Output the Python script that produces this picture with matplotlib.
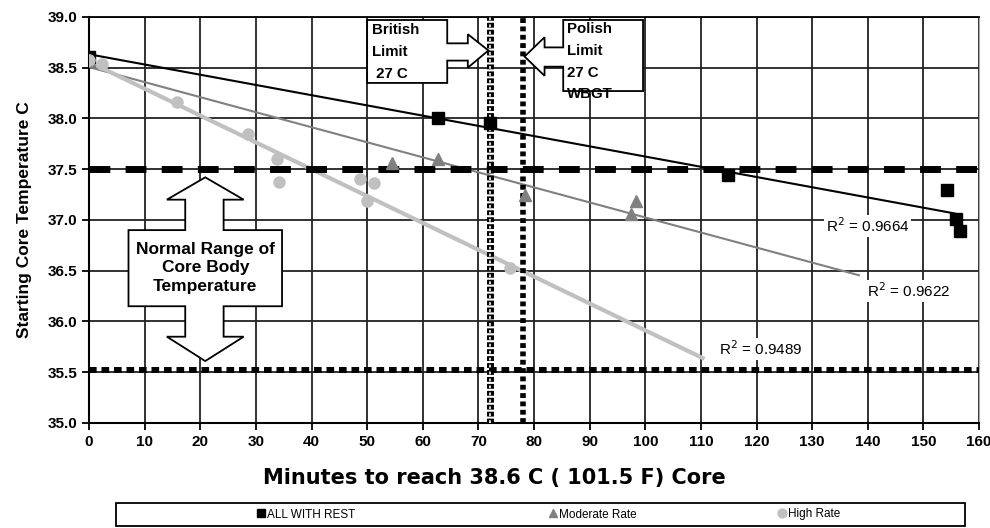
import numpy as np
import matplotlib
matplotlib.use("Agg")
import matplotlib.pyplot as plt
from matplotlib.patches import Polygon, Rectangle

plt.rcParams["font.family"] = ["Liberation Sans", "DejaVu Sans"]
plt.rcParams["lines.scale_dashes"] = False

# data
rest_x = [0, 62.7, 72.1, 114.8, 154.2, 155.8, 156.6]
rest_y = [38.61, 38.00, 37.96, 37.44, 37.30, 37.01, 36.89]

moderate_x = [0, 54.4, 62.7, 78.4, 98.4, 97.4]
moderate_y = [38.58, 37.56, 37.60, 37.25, 37.19, 37.06]

high_x = [0, 2.3, 15.8, 28.6, 33.8, 34.2, 48.7, 51.2, 49.9, 75.7]
high_y = [38.58, 38.54, 38.16, 37.85, 37.60, 37.37, 37.40, 37.36, 37.19, 36.53]

# trend lines are drawn out to these x values (excel forecast)
trend_end = [155.6, 138.4, 110.3]
r2_labels = ["R$^2$ = 0.9664", "R$^2$ = 0.9622", "R$^2$ = 0.9489"]
r2_pos = [(140.0, 36.94), (147.3, 36.30), (120.7, 35.73)]

normal_upper = 37.5
normal_lower = 35.52
british_limit = 72.0
polish_limit = 78.0

fig = plt.figure(figsize=(9.9, 5.28), dpi=100)
ax = fig.add_axes([0.0899, 0.1989, 0.899, 0.769])

series = [
    (rest_x, rest_y, "s", "black", 1.5, "ALL WITH REST"),
    (moderate_x, moderate_y, "^", "#808080", 1.5, "Moderate Rate"),
    (high_x, high_y, "o", "#c0c0c0", 3.0, "High Rate"),
]

handles = []
for (xs, ys, mk, col, lw, name), xend, lab, pos in zip(series, trend_end, r2_labels, r2_pos):
    h, = ax.plot(xs, ys, linestyle="none", marker=mk, color=col, markersize=8, label=name, zorder=4)
    handles.append(h)
    k, b = np.polyfit(xs, ys, 1)
    tx = np.array([0, xend])
    ax.plot(tx, k * tx + b, color=col, lw=lw, zorder=3)
    ax.text(pos[0], pos[1], lab, fontsize=11, ha="center", va="center",
            bbox=dict(facecolor="white", edgecolor="none", pad=1), zorder=5)

# reference lines
ax.axhline(normal_upper, color="black", lw=5, dashes=(15, 11), zorder=3)
ax.axhline(normal_lower, color="black", lw=4.3, dashes=(5.5, 3.5), zorder=3)
ax.axvline(british_limit, color="black", lw=5, dashes=(3.5, 1.5), zorder=3)
ax.axvline(british_limit, color="white", lw=1.2, dashes=(2, 3), zorder=3)
ax.axvline(polish_limit, color="black", lw=4, dashes=(3.5, 2.5), zorder=3)

# callout shapes
normal_shape = [(20.9, 37.42), (27.8, 37.20), (24.2, 37.20), (24.2, 36.90), (34.7, 36.90),
                (34.7, 36.15), (24.2, 36.15), (24.2, 35.85), (27.8, 35.85), (20.9, 35.61),
                (14.0, 35.85), (17.3, 35.85), (17.3, 36.15), (7.1, 36.15), (7.1, 36.90),
                (17.3, 36.90), (17.3, 37.20), (14.0, 37.20)]
british_shape = [(50.0, 38.97), (64.4, 38.97), (64.4, 38.74), (68.1, 38.74), (68.1, 38.83),
                 (71.8, 38.67), (68.1, 38.50), (68.1, 38.57), (64.4, 38.57), (64.4, 38.35),
                 (50.0, 38.35)]
polish_shape = [(85.25, 38.97), (99.6, 38.97), (99.6, 38.27), (85.25, 38.27), (85.25, 38.51),
                (81.9, 38.51), (81.9, 38.42), (78.3, 38.61), (81.9, 38.80), (81.9, 38.70),
                (85.25, 38.70)]
for shp in [normal_shape, british_shape, polish_shape]:
    ax.add_patch(Polygon(shp, closed=True, facecolor="white", edgecolor="black", lw=1.3, zorder=6))

ax.text(20.9, 36.53, "Normal Range of\nCore Body\nTemperature", ha="center", va="center",
        fontsize=12.5, fontweight="bold", linespacing=1.3, zorder=7)
ax.text(50.8, 38.655, "British\nLimit\n 27 C", ha="left", va="center",
        fontsize=10.8, fontweight="bold", linespacing=1.72, zorder=7)
ax.text(85.9, 38.56, "Polish\nLimit\n27 C\nWBGT", ha="left", va="center",
        fontsize=10.8, fontweight="bold", linespacing=1.72, zorder=7)

ax.set_xlim(0, 160)
ax.set_ylim(35.0, 39.0)
ax.set_xticks(np.arange(0, 161, 10))
ax.set_yticks(np.arange(35.0, 39.01, 0.5))
ax.set_yticklabels([f"{v:.1f}" for v in np.arange(35.0, 39.01, 0.5)])
ax.tick_params(labelsize=11, width=1.3, length=5, direction="out")
for lbl in ax.get_xticklabels() + ax.get_yticklabels():
    lbl.set_fontweight("bold")
ax.grid(True, color="#222222", lw=1.3, zorder=1)
ax.set_axisbelow(True)
for side in ["left", "bottom"]:
    ax.spines[side].set_linewidth(1.5)
ax.spines["top"].set_linewidth(1.3)
ax.spines["right"].set_color("#aaaaaa")

ax.set_xlabel("Minutes to reach 38.6 C ( 101.5 F) Core", fontsize=15, fontweight="bold",
              family=["DejaVu Sans"])
ax.xaxis.set_label_coords(0.456, -0.112)
ax.set_ylabel("Starting Core Temperature C", fontsize=12.5, fontweight="bold", labelpad=11)

# legend: frame across the bottom, one entry centred in each third
fig.add_artist(Rectangle((116 / 990, 2 / 528), 849 / 990, 23 / 528, transform=fig.transFigure,
                         facecolor="white", edgecolor="black", lw=1.3))
for h, cx in zip(handles, [305, 592, 808]):
    fig.legend(handles=[h], loc="center", bbox_to_anchor=(cx / 990, 13.5 / 528),
               fontsize=8.5, frameon=False, handletextpad=0.05, markerscale=0.8,
               handlelength=1.0, borderpad=0)

fig.savefig("out.png", dpi=100)
